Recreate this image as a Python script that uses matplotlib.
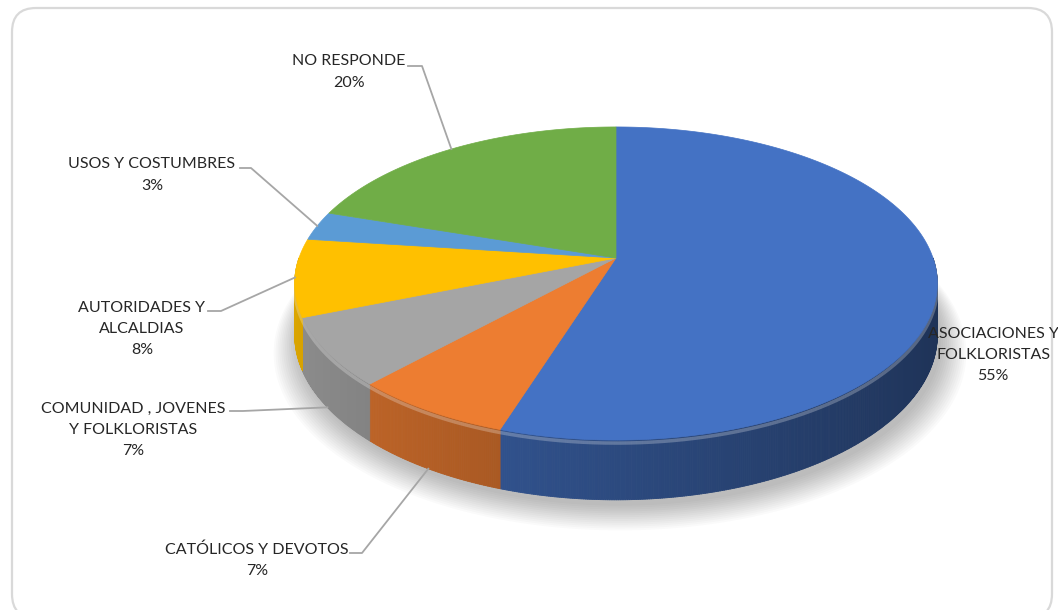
import numpy as np
import matplotlib.pyplot as plt
from matplotlib.patches import Polygon, FancyBboxPatch
from matplotlib.collections import PolyCollection

categories = ["ASOCIACIONES Y\nFOLKLORISTAS", "CATÓLICOS Y DEVOTOS",
              "COMUNIDAD , JOVENES\nY FOLKLORISTAS", "AUTORIDADES Y\nALCALDIAS",
              "USOS Y COSTUMBRES", "NO RESPONDE"]
values = [55, 7, 7, 8, 3, 20]
colors = ["#4472C4", "#ED7D31", "#A5A5A5", "#FFC000", "#5B9BD5", "#70AD47"]

# label block centres and leader start/elbow (pixels)
label_xy = [(993, 355), (257, 560), (133, 430), (142, 329), (152, 175), (349, 72)]
leader = [None, (350, 362, 553), (230, 243, 411), (208, 221, 311),
          (240, 251, 168), (408, 422, 66)]

plt.rcParams['font.family'] = ['Lato', 'DejaVu Sans']

W, H = 1058, 610
fig = plt.figure(figsize=(W / 100, H / 100), dpi=100)
ax = fig.add_axes([0, 0, 1, 1])
ax.set_xlim(0, W)
ax.set_ylim(H, 0)
ax.axis("off")

# rounded chart frame
ax.add_patch(FancyBboxPatch((12, 8), 1040, 610, boxstyle="round,pad=0,rounding_size=24",
                            fc="white", ec="#d9d9d9", lw=1.6, zorder=0))

# perspective projection of the pie disc
cx, cy, A, B, k, D = 616, 258, 317, 152.4, 0.163, 50


def proj(theta_deg):
    t = np.radians(theta_deg)
    u, v = np.sin(t), -np.cos(t)
    den = 1 - k * v
    return cx + A * u / den, cy + B * v / den, D / den, u


total = sum(values)
bounds = np.concatenate([[0], np.cumsum(values)]) / total * 360

# soft shadow below the pie
th = np.linspace(0, 360, 361)
sx, sy, sd, _ = proj(th)
for i in range(14):
    g = 1 + i * 0.006
    ax.add_patch(Polygon(np.column_stack([cx + (sx - cx) * g + 4, cy + (sy - cy) * g + sd + 6 + i * 0.8]),
                         closed=True, fc="black", ec="none", alpha=0.018, zorder=1))

# side walls with shading
for i in range(len(values)):
    a0, a1 = max(bounds[i], 90), min(bounds[i + 1], 270)
    if a1 <= a0:
        continue
    ts = np.linspace(a0, a1, max(int((a1 - a0) * 3), 2))
    x, y, d, u = proj(ts)
    base = np.array(plt.matplotlib.colors.to_rgb(colors[i]))
    polys, fcs = [], []
    for j in range(len(ts) - 1):
        polys.append([(x[j], y[j]), (x[j + 1], y[j + 1]),
                      (x[j + 1], y[j + 1] + d[j + 1]), (x[j], y[j] + d[j])])
        f = 0.86 - 0.42 * (0.5 * (u[j] + u[j + 1]) + 1) / 2
        fcs.append(np.clip(base * f, 0, 1))
    ax.add_collection(PolyCollection(polys, facecolors=fcs, edgecolors=fcs, linewidths=0.6, zorder=2))
    # light highlight along the upper rim of the wall
    ax.plot(x, y + 3, color="white", alpha=0.25, lw=2.5, zorder=3, solid_capstyle="butt")

# top faces
for i in range(len(values)):
    ts = np.linspace(bounds[i], bounds[i + 1], max(int(bounds[i + 1] - bounds[i]) * 2, 3))
    x, y, _, _ = proj(ts)
    pts = np.column_stack([np.concatenate([[cx], x]), np.concatenate([[cy], y])])
    ax.add_patch(Polygon(pts, closed=True, fc=colors[i], ec=colors[i], lw=0.5, zorder=4))

# labels and leader lines
for i, cat in enumerate(categories):
    pct = round(values[i] / total * 100)
    lx, ly = label_xy[i]
    ax.text(lx, ly, f"{cat}\n{pct}%", ha="center", va="center", fontsize=11.5,
            color="#262626", linespacing=1.68, zorder=6)
    if leader[i] is None:
        continue
    mid = (bounds[i] + bounds[i + 1]) / 2
    px, py, pd, _ = proj(mid)
    t = np.radians(mid)
    if -np.cos(t) > 0.3:
        py = py + pd
    xs, xe, ys = leader[i]
    ax.plot([xs, xe, px], [ys, ys, py], color="#a6a6a6", lw=1.3, zorder=5)

fig.savefig("out.png", dpi=100)
